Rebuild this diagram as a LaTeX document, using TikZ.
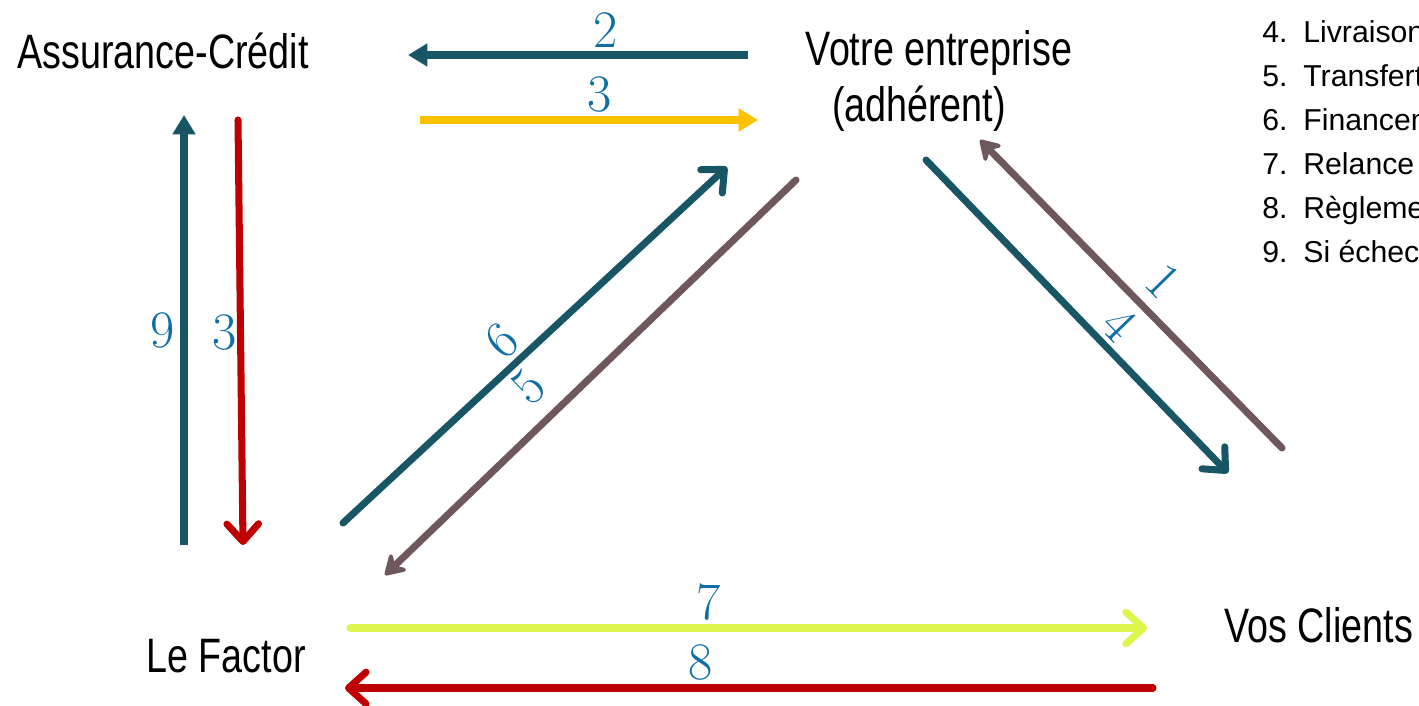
\documentclass[tikz,border=0pt]{standalone}
\usepackage{fontspec}
\newfontfamily\narrowfont{Liberation Sans}[FakeStretch=0.78]
\newfontfamily\listfont{Liberation Sans}
\usetikzlibrary{arrows.meta}
\definecolor{flowteal}{RGB}{24,86,102}
\definecolor{flowgold}{RGB}{255,192,0}
\definecolor{flowred}{RGB}{192,0,0}
\definecolor{flowbrown}{RGB}{110,88,92}
\definecolor{flowlime}{RGB}{222,246,75}
\definecolor{numblue}{RGB}{15,110,165}
\tikzset{
    every node/.append style={inner sep=0pt},
    entity/.style={font=\narrowfont\fontsize{27.5}{32}\selectfont, anchor=base},
    item/.style={font=\listfont\fontsize{17.2}{25}\selectfont, anchor=base west},
    num/.style={font=\fontsize{30}{36}\selectfont, text=numblue, inner sep=2.5pt},
    flow/.style={line width=4pt},
    tri/.style={flow, -{Triangle[length=11pt,width=12.5pt]}},
    barb/.style={flow, line cap=round, -{Straight Barb[length=10pt,width=18pt,round]}},
    kite/.style={flow, line cap=round, -{Stealth[length=14pt,width=17pt,inset=5pt,round]}}
}

\begin{document}
\begin{tikzpicture}
\clip (0,0) rectangle (28.38,14.10);

\node[entity] (assur) at (3.26,12.74) {Assurance-Crédit};
\node[entity] (votre) at (18.78,12.80) {Votre entreprise};
\node[entity] (adh) at (18.38,11.68) {(adhérent)};
\node[entity] (factor) at (4.52,0.66) {Le Factor};
\node[entity, anchor=base west] (clients) at (24.48,1.26) {Vos Clients};

% liste des etapes
\foreach \n/\t [count=\i from 0] in {4/Livraison, 5/Transfert, 6/Financement, 7/Relance, 8/Règlement, 9/Si échec}
    \node[item] (item\n) at (25.24,13.26-0.88*\i) {\makebox[0.82cm][l]{\n.}\t};

% extremites des fleches
\coordinate (d2a) at (14.96,13.00);  \coordinate (d2b) at (8.16,13.00);
\coordinate (d3a) at (8.40,11.70);   \coordinate (d3b) at (15.16,11.70);
\coordinate (d9a) at (3.68,3.20);    \coordinate (d9b) at (3.68,11.80);
\coordinate (r3a) at (4.76,11.70);   \coordinate (r3b) at (4.86,3.20);
\coordinate (d6a) at (6.86,3.64);    \coordinate (d6b) at (14.54,10.76);
\coordinate (d5a) at (15.92,10.50);  \coordinate (d5b) at (7.70,2.60);
\coordinate (d1a) at (25.64,5.14);   \coordinate (d1b) at (19.60,11.30);
\coordinate (d4a) at (18.52,10.90);  \coordinate (d4b) at (24.56,4.64);
\coordinate (d7a) at (7.00,1.54);    \coordinate (d7b) at (22.94,1.54);
\coordinate (d8a) at (23.06,0.34);   \coordinate (d8b) at (6.90,0.34);

\draw[tri, flowteal] (d2a) -- (d2b) node[num, pos=0.42, above] {2};
\draw[tri, flowgold] (d3a) -- (d3b) node[num, pos=0.53, above] {3};
\draw[tri, flowteal] (d9a) -- (d9b) node[num, midway, left=1pt] {9};
\draw[barb, flowred] (r3a) -- (r3b) node[num, midway, left=-2.5pt] {3};
\draw[barb, flowteal] (d6a) -- (d6b) node[num, pos=0.46, above, sloped] {6};
\draw[kite, flowbrown] (d5a) -- (d5b) node[num, pos=0.59, above=6pt, sloped] {5};
\draw[kite, flowbrown] (d1a) -- (d1b) node[num, pos=0.47, above=4pt, sloped] {1};
\draw[barb, flowteal] (d4a) -- (d4b) node[num, pos=0.58, above=0pt, sloped] {4};
\draw[barb, flowlime] (d7a) -- (d7b) node[num, pos=0.45, above] {7};
\draw[barb, flowred] (d8a) -- (d8b) node[num, pos=0.56, above] {8};
\end{tikzpicture}
\end{document}
